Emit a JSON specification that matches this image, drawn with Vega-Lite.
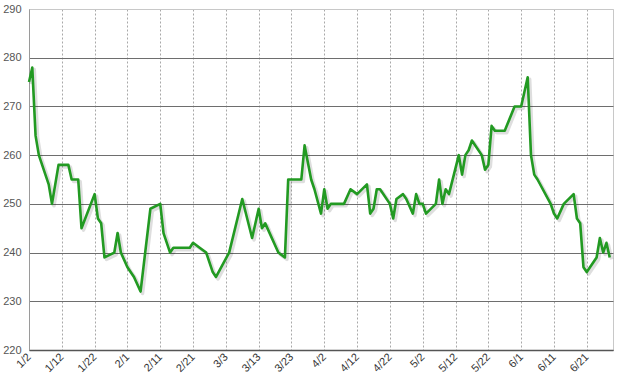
{
  "$schema": "https://vega.github.io/schema/vega-lite/v6.json",
  "width": 584,
  "height": 341,
  "autosize": {"type": "none"},
  "padding": {"left": 29, "top": 9, "right": 14, "bottom": 38},
  "background": "white",
  "config": {
    "view": {"stroke": "#c8c8c8", "strokeWidth": 1},
    "font": "Liberation Sans"
  },
  "data": {
    "values": [
      {"date": "2013-01-02", "price": 275},
      {"date": "2013-01-03", "price": 278},
      {"date": "2013-01-04", "price": 264},
      {"date": "2013-01-05", "price": 260},
      {"date": "2013-01-07", "price": 256},
      {"date": "2013-01-08", "price": 254},
      {"date": "2013-01-09", "price": 250},
      {"date": "2013-01-11", "price": 258},
      {"date": "2013-01-14", "price": 258},
      {"date": "2013-01-15", "price": 255},
      {"date": "2013-01-17", "price": 255},
      {"date": "2013-01-18", "price": 245},
      {"date": "2013-01-22", "price": 252},
      {"date": "2013-01-23", "price": 247},
      {"date": "2013-01-24", "price": 246},
      {"date": "2013-01-25", "price": 239},
      {"date": "2013-01-28", "price": 240},
      {"date": "2013-01-29", "price": 244},
      {"date": "2013-01-30", "price": 240},
      {"date": "2013-02-01", "price": 237},
      {"date": "2013-02-03", "price": 235},
      {"date": "2013-02-05", "price": 232},
      {"date": "2013-02-08", "price": 249},
      {"date": "2013-02-11", "price": 250},
      {"date": "2013-02-12", "price": 244},
      {"date": "2013-02-14", "price": 240},
      {"date": "2013-02-15", "price": 241},
      {"date": "2013-02-20", "price": 241},
      {"date": "2013-02-21", "price": 242},
      {"date": "2013-02-23", "price": 241},
      {"date": "2013-02-25", "price": 240},
      {"date": "2013-02-27", "price": 236},
      {"date": "2013-02-28", "price": 235},
      {"date": "2013-03-04", "price": 240},
      {"date": "2013-03-08", "price": 251},
      {"date": "2013-03-11", "price": 243},
      {"date": "2013-03-13", "price": 249},
      {"date": "2013-03-14", "price": 245},
      {"date": "2013-03-15", "price": 246},
      {"date": "2013-03-19", "price": 240},
      {"date": "2013-03-21", "price": 239},
      {"date": "2013-03-22", "price": 255},
      {"date": "2013-03-26", "price": 255},
      {"date": "2013-03-27", "price": 262},
      {"date": "2013-03-29", "price": 255},
      {"date": "2013-03-30", "price": 253},
      {"date": "2013-04-01", "price": 248},
      {"date": "2013-04-02", "price": 253},
      {"date": "2013-04-03", "price": 249},
      {"date": "2013-04-04", "price": 250},
      {"date": "2013-04-08", "price": 250},
      {"date": "2013-04-10", "price": 253},
      {"date": "2013-04-12", "price": 252},
      {"date": "2013-04-15", "price": 254},
      {"date": "2013-04-16", "price": 248},
      {"date": "2013-04-17", "price": 249},
      {"date": "2013-04-18", "price": 253},
      {"date": "2013-04-19", "price": 253},
      {"date": "2013-04-22", "price": 250},
      {"date": "2013-04-23", "price": 247},
      {"date": "2013-04-24", "price": 251},
      {"date": "2013-04-26", "price": 252},
      {"date": "2013-04-27", "price": 251},
      {"date": "2013-04-29", "price": 248},
      {"date": "2013-04-30", "price": 252},
      {"date": "2013-05-01", "price": 250},
      {"date": "2013-05-02", "price": 250},
      {"date": "2013-05-03", "price": 248},
      {"date": "2013-05-06", "price": 250},
      {"date": "2013-05-07", "price": 255},
      {"date": "2013-05-08", "price": 250},
      {"date": "2013-05-09", "price": 253},
      {"date": "2013-05-10", "price": 252},
      {"date": "2013-05-13", "price": 260},
      {"date": "2013-05-14", "price": 256},
      {"date": "2013-05-15", "price": 260},
      {"date": "2013-05-16", "price": 261},
      {"date": "2013-05-17", "price": 263},
      {"date": "2013-05-20", "price": 260},
      {"date": "2013-05-21", "price": 257},
      {"date": "2013-05-22", "price": 258},
      {"date": "2013-05-23", "price": 266},
      {"date": "2013-05-24", "price": 265},
      {"date": "2013-05-27", "price": 265},
      {"date": "2013-05-30", "price": 270},
      {"date": "2013-06-01", "price": 270},
      {"date": "2013-06-03", "price": 276},
      {"date": "2013-06-04", "price": 260},
      {"date": "2013-06-05", "price": 256},
      {"date": "2013-06-06", "price": 255},
      {"date": "2013-06-10", "price": 250},
      {"date": "2013-06-11", "price": 248},
      {"date": "2013-06-12", "price": 247},
      {"date": "2013-06-14", "price": 250},
      {"date": "2013-06-17", "price": 252},
      {"date": "2013-06-18", "price": 247},
      {"date": "2013-06-19", "price": 246},
      {"date": "2013-06-20", "price": 237},
      {"date": "2013-06-21", "price": 236},
      {"date": "2013-06-24", "price": 239},
      {"date": "2013-06-25", "price": 243},
      {"date": "2013-06-26", "price": 240},
      {"date": "2013-06-27", "price": 242},
      {"date": "2013-06-28", "price": 239}
    ]
  },
  "encoding": {
    "x": {
      "field": "date",
      "type": "temporal",
      "scale": {
        "type": "utc",
        "domain": [
          {"year": 2013, "month": 1, "date": 2, "utc": true},
          {"year": 2013, "month": 6, "date": 29, "utc": true}
        ]
      },
      "axis": {
        "values": [
          {"year": 2013, "month": 1, "date": 2, "utc": true},
          {"year": 2013, "month": 1, "date": 12, "utc": true},
          {"year": 2013, "month": 1, "date": 22, "utc": true},
          {"year": 2013, "month": 2, "date": 1, "utc": true},
          {"year": 2013, "month": 2, "date": 11, "utc": true},
          {"year": 2013, "month": 2, "date": 21, "utc": true},
          {"year": 2013, "month": 3, "date": 3, "utc": true},
          {"year": 2013, "month": 3, "date": 13, "utc": true},
          {"year": 2013, "month": 3, "date": 23, "utc": true},
          {"year": 2013, "month": 4, "date": 2, "utc": true},
          {"year": 2013, "month": 4, "date": 12, "utc": true},
          {"year": 2013, "month": 4, "date": 22, "utc": true},
          {"year": 2013, "month": 5, "date": 2, "utc": true},
          {"year": 2013, "month": 5, "date": 12, "utc": true},
          {"year": 2013, "month": 5, "date": 22, "utc": true},
          {"year": 2013, "month": 6, "date": 1, "utc": true},
          {"year": 2013, "month": 6, "date": 11, "utc": true},
          {"year": 2013, "month": 6, "date": 21, "utc": true}
        ],
        "labelExpr": "utcFormat(datum.value, '%-m/%-d')",
        "labelAngle": -45,
        "labelAlign": "right",
        "labelBaseline": "middle",
        "labelOverlap": false,
        "labelPadding": 5,
        "labelFontSize": 11,
        "labelColor": "#333333",
        "ticks": false,
        "grid": true,
        "gridDash": [2, 2],
        "gridColor": "#a8a8a8",
        "gridWidth": 1,
        "domainColor": "#555555",
        "domainWidth": 1.5,
        "title": null
      }
    },
    "y": {
      "field": "price",
      "type": "quantitative",
      "scale": {"domain": [220, 290], "zero": false, "nice": false},
      "axis": {
        "values": [220, 230, 240, 250, 260, 270, 280, 290],
        "ticks": false,
        "grid": true,
        "gridColor": {"condition": {"test": "datum.value == 290", "value": "#c8c8c8"}, "value": "#6e6e6e"},
        "gridWidth": 1.2,
        "domainColor": "#9a9a9a",
        "labelPadding": 8,
        "labelFontSize": 11,
        "labelColor": "#555555",
        "title": null
      }
    }
  },
  "layer": [
    {
      "mark": {"type": "line", "color": "#000000", "opacity": 0.13, "strokeWidth": 3.5, "xOffset": 2, "yOffset": 2, "strokeJoin": "round"}
    },
    {
      "mark": {"type": "line", "color": "#229a22", "strokeWidth": 2.6, "strokeJoin": "round"}
    }
  ]
}
